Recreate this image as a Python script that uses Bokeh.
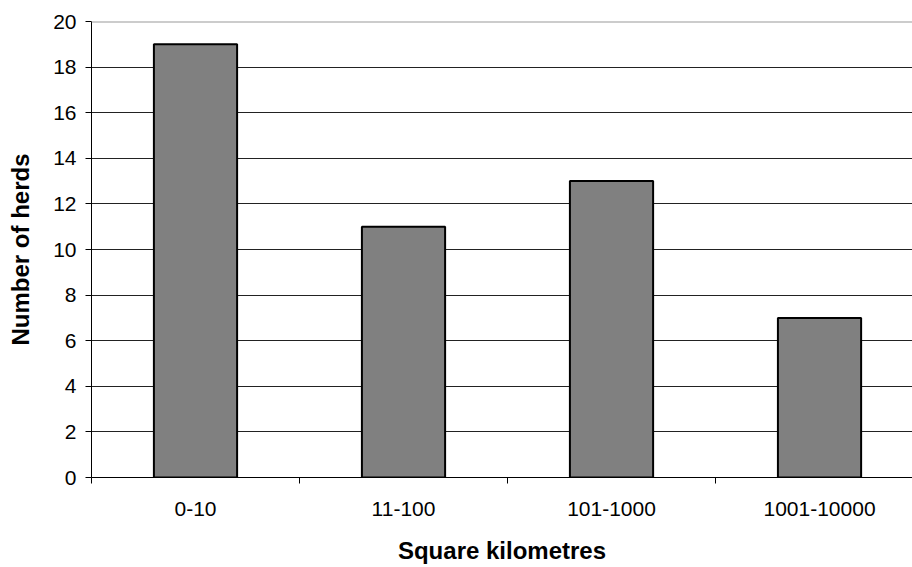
from bokeh.plotting import figure
from bokeh.models import ColumnDataSource, FixedTicker, Range1d, Span
from bokeh.embed import file_html
from bokeh.resources import INLINE

# Herd counts by range size
categories = ["0-10", "11-100", "101-1000", "1001-10000"]
herds = [19, 11, 13, 7]
y_ticks = [0, 2, 4, 6, 8, 10, 12, 14, 16, 18, 20]

centers = [i + 0.5 for i in range(len(categories))]
source = ColumnDataSource(data=dict(x=centers, herds=herds, label=categories))

p = figure(width=912, height=567, output_backend="svg", toolbar_location=None,
           x_range=Range1d(0, 3.947), y_range=Range1d(0, 20),
           min_border_left=91, min_border_right=0, min_border_top=21,
           min_border_bottom=90)

p.vbar(x="x", top="herds", width=0.4, source=source,
       fill_color="#808080", line_color="black", line_width=2)

# Category axis: labels at bar centres, ticks at category boundaries
p.xaxis.ticker = FixedTicker(ticks=centers, minor_ticks=[0, 1, 2, 3])
p.xaxis.major_label_overrides = {c: lab for c, lab in zip(centers, categories)}
p.xaxis.major_tick_out = 0
p.xaxis.major_tick_in = 0
p.xaxis.minor_tick_out = 6
p.xaxis.minor_tick_in = 0
p.xaxis.minor_tick_line_color = "black"
p.xaxis.axis_label = "Square kilometres"

p.yaxis.ticker = FixedTicker(ticks=y_ticks)
p.yaxis.major_tick_out = 6
p.yaxis.major_tick_in = 0
p.yaxis.minor_tick_line_color = None
p.yaxis.axis_label = "Number of herds"

for ax in (p.xaxis, p.yaxis):
    ax.axis_line_color = "black"
    ax.major_tick_line_color = "black"
    ax.major_label_text_font = "Liberation Sans"
    ax.major_label_text_font_size = "21px"
    ax.major_label_text_color = "black"
    ax.axis_label_text_font = "Liberation Sans"
    ax.axis_label_text_font_size = "24px"
    ax.axis_label_text_font_style = "bold"
    ax.axis_label_text_color = "black"

p.xaxis.major_label_standoff = 18
p.xaxis.axis_label_standoff = 18
p.yaxis.major_label_standoff = 9
p.yaxis.axis_label_standoff = 16

p.xgrid.grid_line_color = None
p.ygrid.grid_line_color = "#222222"
p.ygrid.grid_line_width = 1
p.outline_line_color = None

p.add_layout(Span(location=20, dimension="width", line_color="#999999", line_width=2))

open("out.html", "w").write(file_html(p, INLINE))
